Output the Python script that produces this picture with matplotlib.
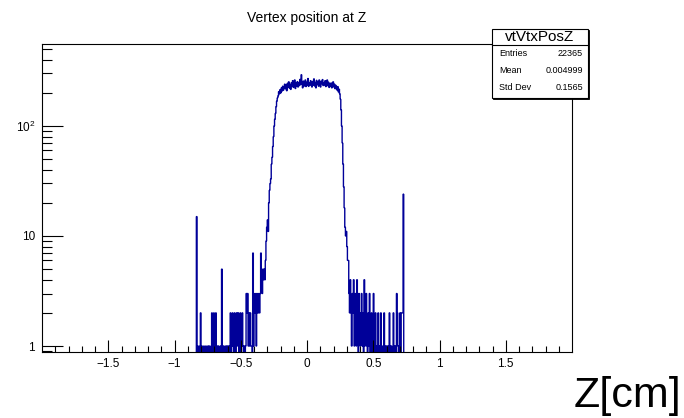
import numpy as np
import matplotlib
matplotlib.use("Agg")
import matplotlib.pyplot as plt
from matplotlib.patches import Rectangle
from matplotlib.lines import Line2D

plt.rcParams['font.family'] = ['Liberation Sans', 'DejaVu Sans']
plt.rcParams['mathtext.fontset'] = 'custom'
plt.rcParams['mathtext.rm'] = 'Liberation Sans'

# ---------------- data ----------------
title = "Vertex position at Z"
hist_name = "vtVtxPosZ"
x_label = "Z[cm]"
stats_labels = ["Entries", "Mean", "Std Dev"]
stats_values = ["22365", "0.004999", "0.1565"]

nbins = 800
x_min, x_max = -2.0, 2.0
first_filled_edge = -0.835   # lower edge of first non-empty bin

left_spike = [15]
left_tail = [0, 1, 0, 0, 1, 2, 0, 1, 0, 0,
             1, 0, 0, 1, 0, 0, 1, 0, 1, 0,
             0, 1, 2, 0, 0, 2, 1, 0, 2, 0,
             1, 0, 1, 0, 0, 1, 0, 5, 1, 0,
             1, 0, 0, 1, 0, 1, 0, 1, 0, 1,
             2, 0, 1, 2, 1, 0, 2, 1, 0, 2,
             2, 1, 2, 0, 1, 2, 0, 1, 2, 1,
             0, 1, 0, 1, 3, 2, 3, 1, 2, 1,
             2, 1, 1, 0, 7, 1, 2, 3, 2, 1,
             3, 2, 2, 3, 2]
rise = [3, 7, 4, 3, 5, 4, 5, 4, 6, 9, 12, 14, 11, 20, 26, 30, 33, 45, 52,
        65, 80, 100, 115, 130, 150, 168, 180]
plateau = [188, 205, 196, 214, 200, 222, 208, 230, 212, 226,
           240, 218, 236, 209, 244, 226, 252, 221, 238, 215,
           247, 230, 258, 224, 236, 262, 219, 245, 230, 253,
           226, 248, 233, 265, 238, 292, 241, 222, 256, 230,
           244, 262, 228, 250, 236, 270, 229, 247, 234, 258,
           240, 226, 254, 236, 268, 231, 249, 222, 260, 238,
           251, 230, 262, 239, 226, 255, 242, 264, 233, 247,
           236, 258, 228, 245, 262, 232, 250, 224, 243, 231,
           246, 222, 238, 252, 226, 240, 218, 234, 225, 212,
           228, 204, 216, 196]
fall = [175, 140, 100, 70, 45, 28, 18, 12, 10, 11, 8, 6]
right_tail = [6, 3, 2, 4, 2, 1, 3, 2, 4, 1,
              2, 3, 1, 4, 2, 0, 3, 2, 1, 2,
              3, 1, 2, 0, 4, 1, 2, 3, 1, 0,
              2, 1, 3, 0, 1, 2, 0, 1, 3, 1,
              0, 2, 1, 0, 0, 2, 1, 0, 1, 2,
              0, 1, 0, 0, 2, 1, 0, 1, 0, 1,
              1, 0, 2, 1, 0, 1, 0, 0, 2, 1,
              0, 1, 0, 3, 2, 1, 0, 1, 2, 0,
              2, 2, 2, 24, 0, 0]

x_ticks = [-1.5, -1, -0.5, 0, 0.5, 1, 1.5]
x_tick_labels = ["\u22121.5", "\u22121", "\u22120.5", "0", "0.5", "1", "1.5"]
y_ticks = [1, 10, 100]
y_tick_labels = ["1", "10", "$10^{2}$"]

# ---------------- build histogram ----------------
edges = np.linspace(x_min, x_max, nbins + 1)
counts = np.zeros(nbins)
filled = np.array(left_spike + left_tail + rise + plateau + fall + right_tail, dtype=float)
start = int(round((first_filled_edge - x_min) / ((x_max - x_min) / nbins)))
counts[start:start + len(filled)] = filled

W, H = 684, 418
fig = plt.figure(figsize=(W / 100, H / 100), dpi=100)
fig.patch.set_facecolor('white')

def fx(x):
    return x / W

def fy(y):
    return 1 - y / H

ax = fig.add_axes([fx(42), fy(352), fx(572) - fx(42), fy(44) - fy(352)])
ax.set_yscale('log')
ymin, ymax = 0.882, 556
draw_counts = np.where(counts > 0, counts, ymin * 1e-3)
ax.stairs(draw_counts, edges, color='#000099', lw=1.0, baseline=ymin * 1e-3)
ax.set_xlim(x_min, x_max)
ax.set_ylim(ymin, ymax)

ax.set_xticks(x_ticks)
ax.set_xticklabels(x_tick_labels)
ax.set_xticks(np.arange(-1.9, 2.0, 0.1), minor=True)
ax.set_yticks(y_ticks)
ax.set_yticklabels(y_tick_labels)
minor_y = [v * d for d in [0.1, 1, 10, 100] for v in range(2, 10)]
ax.set_yticks([m for m in minor_y if ymin <= m <= ymax], minor=True)
ax.yaxis.set_minor_formatter(plt.NullFormatter())

ax.tick_params(axis='x', which='major', direction='in', length=9, width=0.8, labelsize=8.5, pad=4, top=False)
ax.tick_params(axis='x', which='minor', direction='in', length=4.5, width=0.8, top=False)
ax.tick_params(axis='y', which='major', direction='in', length=15, width=0.8, labelsize=8.5, pad=5, right=False)
ax.tick_params(axis='y', which='minor', direction='in', length=7, width=0.8, right=False)
for s in ax.spines.values():
    s.set_linewidth(0.8)

fig.text(fx(307), fy(18), title, ha='center', va='center', fontsize=10)
fig.text(fx(681), fy(407), x_label, ha='right', va='baseline', fontsize=31)

# stats box
bx0, bx1, by0, by1 = 492, 588, 29, 98
fig.patches.append(Rectangle((fx(bx0 + 1), fy(by1 + 1)), fx(bx1 - bx0), fy(by0) - fy(by1),
                             transform=fig.transFigure, facecolor='black', edgecolor='black', lw=0.6, zorder=5))
fig.patches.append(Rectangle((fx(bx0), fy(by1)), fx(bx1 - bx0), fy(by0) - fy(by1),
                             transform=fig.transFigure, facecolor='white', edgecolor='black', lw=0.8, zorder=6))
fig.lines.append(Line2D([fx(bx0), fx(bx1)], [fy(45), fy(45)], transform=fig.transFigure,
                        color='black', lw=0.8, zorder=7))
fig.text(fx((bx0 + bx1) / 2), fy(37), hist_name, ha='center', va='center', fontsize=11, zorder=8)
for i, (lab, val) in enumerate(zip(stats_labels, stats_values)):
    yy = 54 + i * 16.5
    fig.text(fx(bx0 + 7), fy(yy), lab, ha='left', va='center', fontsize=6.5, zorder=8)
    fig.text(fx(bx1 - 5), fy(yy), val, ha='right', va='center', fontsize=6.5, zorder=8)

fig.savefig('out.png', dpi=100)
